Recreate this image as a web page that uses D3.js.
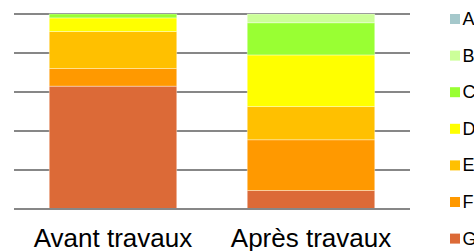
<!DOCTYPE html>
<html>
<head>
<meta charset="utf-8">
<script src="https://cdn.jsdelivr.net/npm/d3@7"></script>
<style>
  body { margin: 0; background: #fff; }
  svg { display: block; font-family: "Liberation Sans", Arial, sans-serif; }
</style>
</head>
<body>
<svg width="474" height="251"></svg>
<script>
const categories = ['Avant travaux', 'Après travaux'];
const classes = ['A', 'B', 'C', 'D', 'E', 'F', 'G'];
// share of each energy class (%), A..G
const avant = [0, 0, 2, 7, 19, 9, 63];
const apres = [0, 4.5, 16.5, 26.5, 17, 26, 9.5];
const colors = ['#a5c8cb', '#ccff99', '#99ff33', '#ffff00', '#ffc000', '#ff9900', '#dc6a37'];
const yTicks = [0, 20, 40, 60, 80, 100];

const svg = d3.select('svg');

const rows = categories.map((c, i) => {
  const vals = i === 0 ? avant : apres;
  const row = {category: c};
  classes.forEach((k, j) => { row[k] = vals[j]; });
  return row;
});

const x = d3.scaleBand()
  .domain(categories)
  .range([14, 410])
  .paddingInner(0.356)
  .paddingOuter(0.178);

const y = d3.scaleLinear().domain([0, 100]).range([209, 14]);

const color = d3.scaleOrdinal().domain(classes).range(colors);

// G at the bottom, A on top
const stack = d3.stack().keys(classes.slice().reverse());
const series = stack(rows);

svg.append('g')
  .selectAll('line')
  .data(yTicks)
  .enter()
  .append('line')
  .attr('x1', 14)
  .attr('x2', 410)
  .attr('y1', (d) => y(d))
  .attr('y2', (d) => y(d))
  .attr('stroke', '#878787')
  .attr('stroke-width', 2);

svg.append('g')
  .selectAll('g')
  .data(series)
  .enter()
  .append('g')
  .attr('fill', (d) => color(d.key))
  .selectAll('rect')
  .data((d) => d.filter((p) => p[1] - p[0] > 0))
  .enter()
  .append('rect')
  .attr('x', (d) => x(d.data.category))
  .attr('width', x.bandwidth())
  .attr('y', (d) => y(d[1]))
  .attr('height', (d) => y(d[0]) - y(d[1]))
  .attr('stroke', '#fff')
  .attr('stroke-opacity', 0.45)
  .attr('stroke-width', 0.8);

// bottom axis line over the bars
svg.append('line')
  .attr('x1', 14).attr('x2', 410)
  .attr('y1', y(0)).attr('y2', y(0))
  .attr('stroke', '#878787')
  .attr('stroke-width', 2);

svg.append('g')
  .selectAll('text')
  .data(categories)
  .enter()
  .append('text')
  .attr('x', (d) => x(d) + x.bandwidth() / 2)
  .attr('y', 247)
  .attr('text-anchor', 'middle')
  .attr('font-size', 26)
  .attr('fill', '#000')
  .text((d) => d);

const legend = svg.append('g')
  .selectAll('g')
  .data(classes)
  .enter()
  .append('g')
  .attr('transform', (d, i) => `translate(450,${14 + i * 36.6})`);

legend.append('rect')
  .attr('width', 10)
  .attr('height', 10)
  .attr('fill', (d) => color(d));

legend.append('text')
  .attr('x', 12.5)
  .attr('y', 11)
  .attr('font-size', 18)
  .attr('fill', '#000')
  .text((d) => d);
</script>
</body>
</html>
